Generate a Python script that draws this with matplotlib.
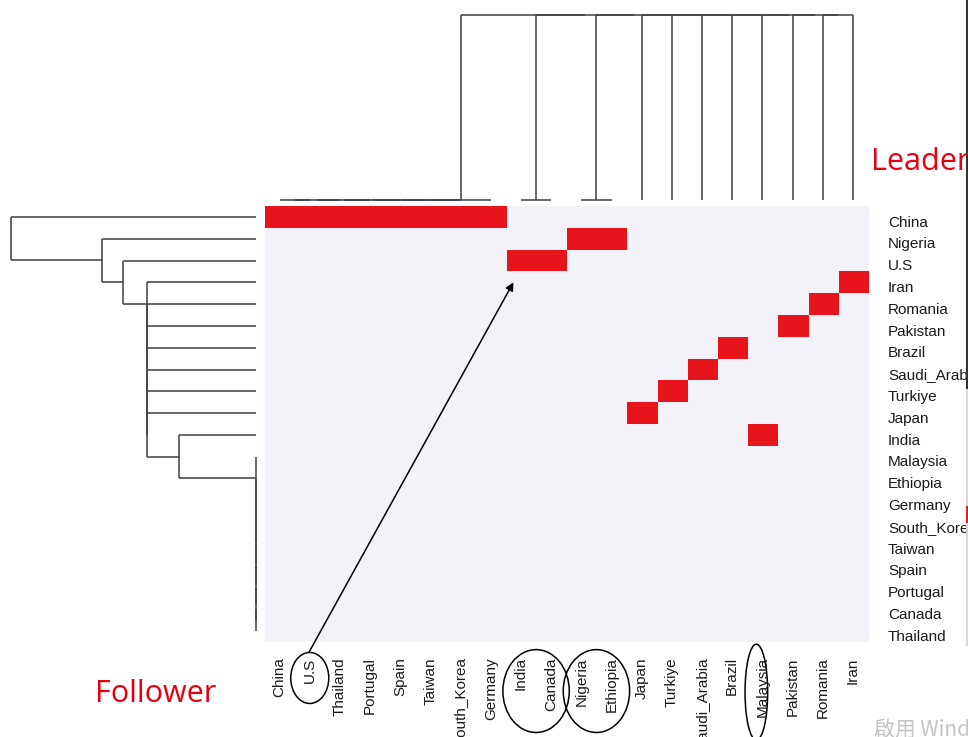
import matplotlib
matplotlib.use("Agg")
import matplotlib.pyplot as plt
from matplotlib.colors import ListedColormap
from matplotlib.collections import LineCollection
from matplotlib.patches import Ellipse
from matplotlib.lines import Line2D
import numpy as np

W, H = 968, 737

# Leaders (rows, top to bottom) and followers (columns, left to right)
row_labels = ["China", "Nigeria", "U.S", "Iran", "Romania", "Pakistan", "Brazil",
              "Saudi_Arabia", "Turkiye", "Japan", "India", "Malaysia", "Ethiopia",
              "Germany", "South_Korea", "Taiwan", "Spain", "Portugal", "Canada",
              "Thailand"]
col_labels = ["China", "U.S", "Thailand", "Portugal", "Spain", "Taiwan",
              "South_Korea", "Germany", "India", "Canada", "Nigeria", "Ethiopia",
              "Japan", "Turkiye", "Saudi_Arabia", "Brazil", "Malaysia", "Pakistan",
              "Romania", "Iran"]

# leader -> followers it is linked with
links = {
    "China": ["China", "U.S", "Thailand", "Portugal", "Spain", "Taiwan",
              "South_Korea", "Germany"],
    "Nigeria": ["Nigeria", "Ethiopia"],
    "U.S": ["India", "Canada"],
    "Iran": ["Iran"],
    "Romania": ["Romania"],
    "Pakistan": ["Pakistan"],
    "Brazil": ["Brazil"],
    "Saudi_Arabia": ["Saudi_Arabia"],
    "Turkiye": ["Turkiye"],
    "Japan": ["Japan"],
    "India": ["Malaysia"],
}

# Cluster merges (left, right, height); leaves are 0..n-1 in display order,
# each merge creates node n, n+1, ...
row_merges = [
    (18, 19, 0.0), (17, 20, 0.0), (16, 21, 0.0), (15, 22, 0.0), (14, 23, 0.0),
    (13, 24, 0.0), (12, 25, 0.0), (11, 26, 0.0),
    (10, 27, 0.314),
    (9, 28, 0.445), (8, 29, 0.445), (7, 30, 0.445), (6, 31, 0.445),
    (5, 32, 0.445), (4, 33, 0.445), (3, 34, 0.445),
    (2, 35, 0.543), (1, 36, 0.629), (0, 37, 1.0),
]
col_merges = [
    (0, 1, 0.0), (20, 2, 0.0), (21, 3, 0.0), (22, 4, 0.0), (23, 5, 0.0),
    (24, 6, 0.0), (25, 7, 0.0),
    (8, 9, 0.0), (10, 11, 0.0),
    (18, 19, 1.0), (17, 29, 1.0), (16, 30, 1.0), (15, 31, 1.0), (14, 32, 1.0),
    (13, 33, 1.0), (12, 34, 1.0), (28, 35, 1.0), (27, 36, 1.0), (26, 37, 1.0),
]

# Followers to be circled below the heatmap
circled = [["U.S"], ["India", "Canada"], ["Nigeria", "Ethiopia"], ["Malaysia"]]

RED = "#E8141C"
BG = "#F2F2F8"
LINE = "#404040"
TEXT = "#1a1a1a"
label_font = ["Liberation Sans", "DejaVu Sans"]


def dendro_segments(merges, n):
    pos = {i: float(i) for i in range(n)}
    hgt = {i: 0.0 for i in range(n)}
    segs = []
    for k, (a, b, h) in enumerate(merges):
        segs.append([(pos[a], h), (pos[b], h)])
        segs.append([(pos[a], h), (pos[a], hgt[a])])
        segs.append([(pos[b], h), (pos[b], hgt[b])])
        pos[n + k] = (pos[a] + pos[b]) / 2.0
        hgt[n + k] = h
    return segs


def px_axes(fig, x0, y0, x1, y1):
    return fig.add_axes([x0 / W, 1 - y1 / H, (x1 - x0) / W, (y1 - y0) / H])


fig = plt.figure(figsize=(W / 100, H / 100), dpi=100)
fig.patch.set_facecolor("white")

nr, nc = len(row_labels), len(col_labels)
mat = np.zeros((nr, nc))
for leader, followers in links.items():
    for f in followers:
        mat[row_labels.index(leader), col_labels.index(f)] = 1

# Heatmap
ax = px_axes(fig, 264.5, 206, 868, 642)
ax.imshow(mat, cmap=ListedColormap([BG, RED]), vmin=0, vmax=1,
          aspect="auto", interpolation="nearest")
ax.set_xticks(range(nc))
ax.set_xticklabels(col_labels, rotation=90, fontsize=11, family=label_font,
                   color=TEXT)
ax.tick_params(axis="x", length=0, pad=11)
ax.set_yticks([])
for s in ax.spines.values():
    s.set_visible(False)

# Row labels on the right
for i, lab in enumerate(row_labels):
    ax.annotate(lab, xy=(1.0, i), xycoords=("axes fraction", "data"),
                xytext=(14.4, -3.0), textcoords="offset points",
                fontsize=11, family=label_font, color=TEXT,
                ha="left", va="center_baseline", annotation_clip=False)

# Column dendrogram (top)
axt = px_axes(fig, 264.5, 15, 868, 200)
axt.add_collection(LineCollection(dendro_segments(col_merges, nc),
                                  colors=LINE, linewidths=1.1, clip_on=False))
axt.set_xlim(-0.5, nc - 0.5)
axt.set_ylim(0, 1)
axt.axis("off")

# Row dendrogram (left)
axl = px_axes(fig, 11, 206, 256, 642)
segs = [[(h, p) for p, h in s] for s in dendro_segments(row_merges, nr)]
axl.add_collection(LineCollection(segs, colors=LINE, linewidths=1.1,
                                  clip_on=False))
axl.set_xlim(1.0, 0.0)
axl.set_ylim(nr - 0.5, -0.5)
axl.axis("off")

# Circles around selected follower labels
for group in circled:
    idx = [col_labels.index(g) for g in group]
    cx = float(np.mean(idx))
    if group == ["Malaysia"]:
        cx -= 0.2
        cy, w, h = 21.8, 0.75, 4.4
    elif len(group) == 1:
        cy, w, h = 21.15, 1.26, 2.34
    else:
        cy, w, h = 21.75, 2.2, 3.8
    ax.add_patch(Ellipse((cx, cy), w, h, fill=False, edgecolor="black",
                         lw=1.1, clip_on=False))

# Arrow from the circled U.S follower label to the U.S leader row
us_col = col_labels.index("U.S")
tgt_col = col_labels.index(links["U.S"][0])
us_row = row_labels.index("U.S")
ax.annotate("", xy=(tgt_col - 0.25, us_row + 1.0),
            xytext=(us_col - 0.03, 21.15 - 1.17),
            arrowprops=dict(arrowstyle="-|>", color="black", lw=1.1,
                            mutation_scale=12, shrinkA=0, shrinkB=0),
            annotation_clip=False)

# Role captions
fig.text(871 / W, 1 - 170 / H, "Leader", family=["Open Sans", "DejaVu Sans"],
         fontsize=22, color="#E60012", va="baseline", ha="left")
fig.text(95 / W, 1 - 702 / H, "Follower", family=["Open Sans", "DejaVu Sans"],
         fontsize=22, color="#E60012", va="baseline", ha="left")

# Screen-edge details
fig.text(874 / W, 1 - 736 / H, "啟用 Windows",
         family=["Noto Sans CJK TC", "DejaVu Sans"], fontsize=15,
         color="#c4c4c4", va="baseline", ha="left")
fig.add_artist(Line2D([966.5 / W] * 2, [1.0, 1 - 390 / H],
                      transform=fig.transFigure, color="#333333", lw=1.5))
fig.add_artist(Line2D([966.5 / W] * 2, [1 - 390 / H, 1 - 645 / H],
                      transform=fig.transFigure, color="#d8d8d8", lw=1.5))
fig.add_artist(Line2D([966.5 / W] * 2, [1 - 507 / H, 1 - 521 / H],
                      transform=fig.transFigure, color=RED, lw=2))

fig.savefig("out.png", dpi=100, facecolor="white")
